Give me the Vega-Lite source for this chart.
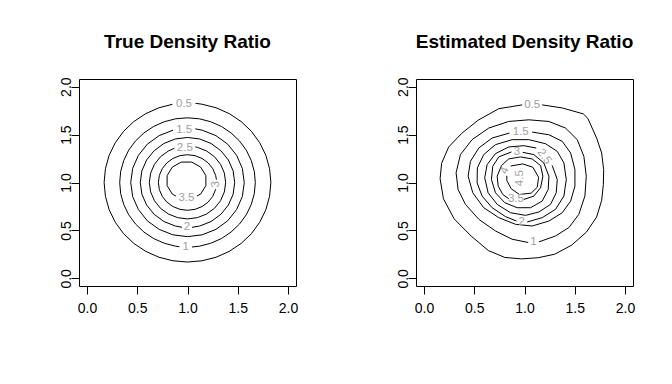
{
 "$schema": "https://vega.github.io/schema/vega-lite/v6.json",
 "padding": {"left": 58, "top": 32, "right": 0, "bottom": 0},
 "autosize": {"type": "pad"},
 "background": "white",
 "spacing": 96,
 "config": {
  "view": {"stroke": "black", "strokeWidth": 1},
  "axis": {"grid": false, "domain": false, "tickColor": "black", "tickSize": 8, "labelFont": "Liberation Sans", "labelFontSize": 14, "labelColor": "black"},
  "axisX": {"labelPadding": 7},
  "axisY": {"labelAngle": -90, "labelAlign": "center", "labelBaseline": "middle", "labelPadding": 5},
  "title": {"font": "Liberation Sans", "fontSize": 19, "fontWeight": "bold", "color": "black", "frame": "group", "anchor": "middle", "offset": 25}
 },
 "datasets": {
  "trueC": [
   {"lvl":"0.5","o":0,"x":1.080,"y":1.826},{"lvl":"0.5","o":1,"x":1.144,"y":1.817},{"lvl":"0.5","o":2,"x":1.284,"y":1.780},{"lvl":"0.5","o":3,"x":1.415,"y":1.719},{"lvl":"0.5","o":4,"x":1.534,"y":1.636},{"lvl":"0.5","o":5,"x":1.636,"y":1.534},{"lvl":"0.5","o":6,"x":1.719,"y":1.415},{"lvl":"0.5","o":7,"x":1.780,"y":1.284},{"lvl":"0.5","o":8,"x":1.817,"y":1.144},{"lvl":"0.5","o":9,"x":1.830,"y":1.000},{"lvl":"0.5","o":10,"x":1.817,"y":0.856},{"lvl":"0.5","o":11,"x":1.780,"y":0.716},{"lvl":"0.5","o":12,"x":1.719,"y":0.585},{"lvl":"0.5","o":13,"x":1.636,"y":0.466},{"lvl":"0.5","o":14,"x":1.534,"y":0.364},{"lvl":"0.5","o":15,"x":1.415,"y":0.281},{"lvl":"0.5","o":16,"x":1.284,"y":0.220},{"lvl":"0.5","o":17,"x":1.144,"y":0.183},{"lvl":"0.5","o":18,"x":1.000,"y":0.170},{"lvl":"0.5","o":19,"x":0.856,"y":0.183},{"lvl":"0.5","o":20,"x":0.716,"y":0.220},{"lvl":"0.5","o":21,"x":0.585,"y":0.281},{"lvl":"0.5","o":22,"x":0.466,"y":0.364},{"lvl":"0.5","o":23,"x":0.364,"y":0.466},{"lvl":"0.5","o":24,"x":0.281,"y":0.585},{"lvl":"0.5","o":25,"x":0.220,"y":0.716},{"lvl":"0.5","o":26,"x":0.183,"y":0.856},{"lvl":"0.5","o":27,"x":0.170,"y":1.000},{"lvl":"0.5","o":28,"x":0.183,"y":1.144},{"lvl":"0.5","o":29,"x":0.220,"y":1.284},{"lvl":"0.5","o":30,"x":0.281,"y":1.415},{"lvl":"0.5","o":31,"x":0.364,"y":1.534},{"lvl":"0.5","o":32,"x":0.466,"y":1.636},{"lvl":"0.5","o":33,"x":0.585,"y":1.719},{"lvl":"0.5","o":34,"x":0.716,"y":1.780},{"lvl":"0.5","o":35,"x":0.850,"y":1.816},
   {"lvl":"1","o":0,"x":1.045,"y":0.327},{"lvl":"1","o":1,"x":1.117,"y":0.335},{"lvl":"1","o":2,"x":1.231,"y":0.366},{"lvl":"1","o":3,"x":1.338,"y":0.415},{"lvl":"1","o":4,"x":1.434,"y":0.483},{"lvl":"1","o":5,"x":1.517,"y":0.566},{"lvl":"1","o":6,"x":1.585,"y":0.663},{"lvl":"1","o":7,"x":1.634,"y":0.769},{"lvl":"1","o":8,"x":1.665,"y":0.883},{"lvl":"1","o":9,"x":1.675,"y":1.000},{"lvl":"1","o":10,"x":1.665,"y":1.117},{"lvl":"1","o":11,"x":1.634,"y":1.231},{"lvl":"1","o":12,"x":1.585,"y":1.338},{"lvl":"1","o":13,"x":1.517,"y":1.434},{"lvl":"1","o":14,"x":1.434,"y":1.517},{"lvl":"1","o":15,"x":1.338,"y":1.585},{"lvl":"1","o":16,"x":1.231,"y":1.634},{"lvl":"1","o":17,"x":1.117,"y":1.665},{"lvl":"1","o":18,"x":1.000,"y":1.675},{"lvl":"1","o":19,"x":0.883,"y":1.665},{"lvl":"1","o":20,"x":0.769,"y":1.634},{"lvl":"1","o":21,"x":0.663,"y":1.585},{"lvl":"1","o":22,"x":0.566,"y":1.517},{"lvl":"1","o":23,"x":0.483,"y":1.434},{"lvl":"1","o":24,"x":0.415,"y":1.338},{"lvl":"1","o":25,"x":0.366,"y":1.231},{"lvl":"1","o":26,"x":0.335,"y":1.117},{"lvl":"1","o":27,"x":0.325,"y":1.000},{"lvl":"1","o":28,"x":0.335,"y":0.883},{"lvl":"1","o":29,"x":0.366,"y":0.769},{"lvl":"1","o":30,"x":0.415,"y":0.663},{"lvl":"1","o":31,"x":0.483,"y":0.566},{"lvl":"1","o":32,"x":0.566,"y":0.483},{"lvl":"1","o":33,"x":0.663,"y":0.415},{"lvl":"1","o":34,"x":0.769,"y":0.366},{"lvl":"1","o":35,"x":0.883,"y":0.335},{"lvl":"1","o":36,"x":0.920,"y":0.330},
   {"lvl":"1.5","o":0,"x":1.078,"y":1.560},{"lvl":"1.5","o":1,"x":1.146,"y":1.546},{"lvl":"1.5","o":2,"x":1.283,"y":1.489},{"lvl":"1.5","o":3,"x":1.400,"y":1.400},{"lvl":"1.5","o":4,"x":1.489,"y":1.283},{"lvl":"1.5","o":5,"x":1.546,"y":1.146},{"lvl":"1.5","o":6,"x":1.565,"y":1.000},{"lvl":"1.5","o":7,"x":1.546,"y":0.854},{"lvl":"1.5","o":8,"x":1.489,"y":0.718},{"lvl":"1.5","o":9,"x":1.400,"y":0.600},{"lvl":"1.5","o":10,"x":1.283,"y":0.511},{"lvl":"1.5","o":11,"x":1.146,"y":0.454},{"lvl":"1.5","o":12,"x":1.000,"y":0.435},{"lvl":"1.5","o":13,"x":0.854,"y":0.454},{"lvl":"1.5","o":14,"x":0.718,"y":0.511},{"lvl":"1.5","o":15,"x":0.600,"y":0.600},{"lvl":"1.5","o":16,"x":0.511,"y":0.718},{"lvl":"1.5","o":17,"x":0.454,"y":0.854},{"lvl":"1.5","o":18,"x":0.435,"y":1.000},{"lvl":"1.5","o":19,"x":0.454,"y":1.146},{"lvl":"1.5","o":20,"x":0.511,"y":1.283},{"lvl":"1.5","o":21,"x":0.600,"y":1.400},{"lvl":"1.5","o":22,"x":0.718,"y":1.489},{"lvl":"1.5","o":23,"x":0.856,"y":1.546},
   {"lvl":"2","o":0,"x":1.045,"y":0.532},{"lvl":"2","o":1,"x":1.122,"y":0.546},{"lvl":"2","o":2,"x":1.235,"y":0.593},{"lvl":"2","o":3,"x":1.332,"y":0.668},{"lvl":"2","o":4,"x":1.407,"y":0.765},{"lvl":"2","o":5,"x":1.454,"y":0.878},{"lvl":"2","o":6,"x":1.470,"y":1.000},{"lvl":"2","o":7,"x":1.454,"y":1.122},{"lvl":"2","o":8,"x":1.407,"y":1.235},{"lvl":"2","o":9,"x":1.332,"y":1.332},{"lvl":"2","o":10,"x":1.235,"y":1.407},{"lvl":"2","o":11,"x":1.122,"y":1.454},{"lvl":"2","o":12,"x":1.000,"y":1.470},{"lvl":"2","o":13,"x":0.878,"y":1.454},{"lvl":"2","o":14,"x":0.765,"y":1.407},{"lvl":"2","o":15,"x":0.668,"y":1.332},{"lvl":"2","o":16,"x":0.593,"y":1.235},{"lvl":"2","o":17,"x":0.546,"y":1.122},{"lvl":"2","o":18,"x":0.530,"y":1.000},{"lvl":"2","o":19,"x":0.546,"y":0.878},{"lvl":"2","o":20,"x":0.593,"y":0.765},{"lvl":"2","o":21,"x":0.668,"y":0.668},{"lvl":"2","o":22,"x":0.765,"y":0.593},{"lvl":"2","o":23,"x":0.878,"y":0.546},{"lvl":"2","o":24,"x":0.945,"y":0.533},
   {"lvl":"2.5","o":0,"x":1.078,"y":1.372},{"lvl":"2.5","o":1,"x":1.098,"y":1.367},{"lvl":"2.5","o":2,"x":1.190,"y":1.329},{"lvl":"2.5","o":3,"x":1.269,"y":1.269},{"lvl":"2.5","o":4,"x":1.329,"y":1.190},{"lvl":"2.5","o":5,"x":1.367,"y":1.098},{"lvl":"2.5","o":6,"x":1.380,"y":1.000},{"lvl":"2.5","o":7,"x":1.367,"y":0.902},{"lvl":"2.5","o":8,"x":1.329,"y":0.810},{"lvl":"2.5","o":9,"x":1.269,"y":0.731},{"lvl":"2.5","o":10,"x":1.190,"y":0.671},{"lvl":"2.5","o":11,"x":1.098,"y":0.633},{"lvl":"2.5","o":12,"x":1.000,"y":0.620},{"lvl":"2.5","o":13,"x":0.902,"y":0.633},{"lvl":"2.5","o":14,"x":0.810,"y":0.671},{"lvl":"2.5","o":15,"x":0.731,"y":0.731},{"lvl":"2.5","o":16,"x":0.671,"y":0.810},{"lvl":"2.5","o":17,"x":0.633,"y":0.902},{"lvl":"2.5","o":18,"x":0.620,"y":1.000},{"lvl":"2.5","o":19,"x":0.633,"y":1.098},{"lvl":"2.5","o":20,"x":0.671,"y":1.190},{"lvl":"2.5","o":21,"x":0.731,"y":1.269},{"lvl":"2.5","o":22,"x":0.810,"y":1.329},{"lvl":"2.5","o":23,"x":0.869,"y":1.357},
   {"lvl":"3","o":0,"x":1.288,"y":1.030},{"lvl":"3","o":1,"x":1.280,"y":1.075},{"lvl":"3","o":2,"x":1.251,"y":1.145},{"lvl":"3","o":3,"x":1.205,"y":1.205},{"lvl":"3","o":4,"x":1.145,"y":1.251},{"lvl":"3","o":5,"x":1.075,"y":1.280},{"lvl":"3","o":6,"x":1.000,"y":1.290},{"lvl":"3","o":7,"x":0.925,"y":1.280},{"lvl":"3","o":8,"x":0.855,"y":1.251},{"lvl":"3","o":9,"x":0.795,"y":1.205},{"lvl":"3","o":10,"x":0.749,"y":1.145},{"lvl":"3","o":11,"x":0.720,"y":1.075},{"lvl":"3","o":12,"x":0.710,"y":1.000},{"lvl":"3","o":13,"x":0.720,"y":0.925},{"lvl":"3","o":14,"x":0.749,"y":0.855},{"lvl":"3","o":15,"x":0.795,"y":0.795},{"lvl":"3","o":16,"x":0.855,"y":0.749},{"lvl":"3","o":17,"x":0.925,"y":0.720},{"lvl":"3","o":18,"x":1.000,"y":0.710},{"lvl":"3","o":19,"x":1.075,"y":0.720},{"lvl":"3","o":20,"x":1.145,"y":0.749},{"lvl":"3","o":21,"x":1.205,"y":0.795},{"lvl":"3","o":22,"x":1.251,"y":0.855},{"lvl":"3","o":23,"x":1.281,"y":0.930},
   {"lvl":"3.5","o":0,"x":1.095,"y":0.860},{"lvl":"3.5","o":1,"x":1.131,"y":0.879},{"lvl":"3.5","o":2,"x":1.183,"y":0.968},{"lvl":"3.5","o":3,"x":1.183,"y":1.072},{"lvl":"3.5","o":4,"x":1.131,"y":1.161},{"lvl":"3.5","o":5,"x":1.042,"y":1.213},{"lvl":"3.5","o":6,"x":0.938,"y":1.213},{"lvl":"3.5","o":7,"x":0.849,"y":1.161},{"lvl":"3.5","o":8,"x":0.797,"y":1.072},{"lvl":"3.5","o":9,"x":0.797,"y":0.968},{"lvl":"3.5","o":10,"x":0.849,"y":0.879},{"lvl":"3.5","o":11,"x":0.885,"y":0.858}
  ],
  "trueL": [
   {"label":"0.5","x":0.965,"y":1.823,"a":0},{"label":"1","x":0.982,"y":0.328,"a":0},{"label":"1.5","x":0.967,"y":1.553,"a":0},{"label":"2","x":0.995,"y":0.532,"a":0},{"label":"2.5","x":0.973,"y":1.365,"a":0},{"label":"3","x":1.287,"y":0.980,"a":-90},{"label":"3.5","x":0.990,"y":0.835,"a":0}
  ],
  "estC": [
   {"lvl":"0.5","o":0,"x":1.176,"y":1.810},{"lvl":"0.5","o":1,"x":1.376,"y":1.778},{"lvl":"0.5","o":2,"x":1.585,"y":1.716},{"lvl":"0.5","o":3,"x":1.630,"y":1.670},{"lvl":"0.5","o":4,"x":1.718,"y":1.464},{"lvl":"0.5","o":5,"x":1.768,"y":1.308},{"lvl":"0.5","o":6,"x":1.788,"y":1.135},{"lvl":"0.5","o":7,"x":1.785,"y":0.979},{"lvl":"0.5","o":8,"x":1.768,"y":0.813},{"lvl":"0.5","o":9,"x":1.718,"y":0.640},{"lvl":"0.5","o":10,"x":1.618,"y":0.484},{"lvl":"0.5","o":11,"x":1.469,"y":0.346},{"lvl":"0.5","o":12,"x":1.302,"y":0.252},{"lvl":"0.5","o":13,"x":1.137,"y":0.215},{"lvl":"0.5","o":14,"x":0.970,"y":0.203},{"lvl":"0.5","o":15,"x":0.804,"y":0.218},{"lvl":"0.5","o":16,"x":0.640,"y":0.290},{"lvl":"0.5","o":17,"x":0.470,"y":0.440},{"lvl":"0.5","o":18,"x":0.300,"y":0.620},{"lvl":"0.5","o":19,"x":0.193,"y":0.830},{"lvl":"0.5","o":20,"x":0.160,"y":1.040},{"lvl":"0.5","o":21,"x":0.175,"y":1.200},{"lvl":"0.5","o":22,"x":0.245,"y":1.370},{"lvl":"0.5","o":23,"x":0.372,"y":1.510},{"lvl":"0.5","o":24,"x":0.538,"y":1.650},{"lvl":"0.5","o":25,"x":0.744,"y":1.770},{"lvl":"0.5","o":26,"x":0.977,"y":1.810},
   {"lvl":"1","o":0,"x":1.143,"y":0.380},{"lvl":"1","o":1,"x":1.309,"y":0.442},{"lvl":"1","o":2,"x":1.442,"y":0.530},{"lvl":"1","o":3,"x":1.541,"y":0.668},{"lvl":"1","o":4,"x":1.601,"y":0.858},{"lvl":"1","o":5,"x":1.615,"y":1.066},{"lvl":"1","o":6,"x":1.591,"y":1.273},{"lvl":"1","o":7,"x":1.525,"y":1.447},{"lvl":"1","o":8,"x":1.409,"y":1.568},{"lvl":"1","o":9,"x":1.243,"y":1.637},{"lvl":"1","o":10,"x":1.043,"y":1.654},{"lvl":"1","o":11,"x":0.843,"y":1.637},{"lvl":"1","o":12,"x":0.644,"y":1.568},{"lvl":"1","o":13,"x":0.478,"y":1.447},{"lvl":"1","o":14,"x":0.362,"y":1.291},{"lvl":"1","o":15,"x":0.319,"y":1.101},{"lvl":"1","o":16,"x":0.339,"y":0.927},{"lvl":"1","o":17,"x":0.412,"y":0.772},{"lvl":"1","o":18,"x":0.545,"y":0.616},{"lvl":"1","o":19,"x":0.711,"y":0.494},{"lvl":"1","o":20,"x":0.877,"y":0.408},{"lvl":"1","o":21,"x":1.037,"y":0.374},
   {"lvl":"1.5","o":0,"x":1.076,"y":1.526},{"lvl":"1.5","o":1,"x":1.243,"y":1.498},{"lvl":"1.5","o":2,"x":1.376,"y":1.429},{"lvl":"1.5","o":3,"x":1.459,"y":1.308},{"lvl":"1.5","o":4,"x":1.502,"y":1.135},{"lvl":"1.5","o":5,"x":1.502,"y":0.962},{"lvl":"1.5","o":6,"x":1.459,"y":0.806},{"lvl":"1.5","o":7,"x":1.376,"y":0.685},{"lvl":"1.5","o":8,"x":1.243,"y":0.598},{"lvl":"1.5","o":9,"x":1.076,"y":0.546},{"lvl":"1.5","o":10,"x":0.910,"y":0.564},{"lvl":"1.5","o":11,"x":0.744,"y":0.633},{"lvl":"1.5","o":12,"x":0.594,"y":0.737},{"lvl":"1.5","o":13,"x":0.485,"y":0.893},{"lvl":"1.5","o":14,"x":0.439,"y":1.066},{"lvl":"1.5","o":15,"x":0.462,"y":1.221},{"lvl":"1.5","o":16,"x":0.545,"y":1.360},{"lvl":"1.5","o":17,"x":0.678,"y":1.464},{"lvl":"1.5","o":18,"x":0.850,"y":1.516},
   {"lvl":"2","o":0,"x":1.027,"y":0.588},{"lvl":"2","o":1,"x":1.176,"y":0.633},{"lvl":"2","o":2,"x":1.309,"y":0.720},{"lvl":"2","o":3,"x":1.392,"y":0.858},{"lvl":"2","o":4,"x":1.416,"y":1.031},{"lvl":"2","o":5,"x":1.392,"y":1.204},{"lvl":"2","o":6,"x":1.326,"y":1.325},{"lvl":"2","o":7,"x":1.209,"y":1.405},{"lvl":"2","o":8,"x":1.043,"y":1.447},{"lvl":"2","o":9,"x":0.877,"y":1.447},{"lvl":"2","o":10,"x":0.711,"y":1.395},{"lvl":"2","o":11,"x":0.594,"y":1.291},{"lvl":"2","o":12,"x":0.531,"y":1.153},{"lvl":"2","o":13,"x":0.528,"y":0.997},{"lvl":"2","o":14,"x":0.578,"y":0.858},{"lvl":"2","o":15,"x":0.678,"y":0.737},{"lvl":"2","o":16,"x":0.811,"y":0.644},{"lvl":"2","o":17,"x":0.920,"y":0.598},
   {"lvl":"2.5","o":0,"x":1.276,"y":1.177},{"lvl":"2.5","o":1,"x":1.326,"y":1.031},{"lvl":"2.5","o":2,"x":1.316,"y":0.893},{"lvl":"2.5","o":3,"x":1.259,"y":0.772},{"lvl":"2.5","o":4,"x":1.143,"y":0.692},{"lvl":"2.5","o":5,"x":1.010,"y":0.657},{"lvl":"2.5","o":6,"x":0.860,"y":0.685},{"lvl":"2.5","o":7,"x":0.728,"y":0.772},{"lvl":"2.5","o":8,"x":0.638,"y":0.893},{"lvl":"2.5","o":9,"x":0.604,"y":1.049},{"lvl":"2.5","o":10,"x":0.628,"y":1.187},{"lvl":"2.5","o":11,"x":0.711,"y":1.301},{"lvl":"2.5","o":12,"x":0.843,"y":1.371},{"lvl":"2.5","o":13,"x":0.993,"y":1.384},{"lvl":"2.5","o":14,"x":1.117,"y":1.360},
   {"lvl":"3","o":0,"x":0.983,"y":1.315},{"lvl":"3","o":1,"x":1.093,"y":1.291},{"lvl":"3","o":2,"x":1.192,"y":1.204},{"lvl":"3","o":3,"x":1.243,"y":1.066},{"lvl":"3","o":4,"x":1.236,"y":0.927},{"lvl":"3","o":5,"x":1.176,"y":0.806},{"lvl":"3","o":6,"x":1.060,"y":0.737},{"lvl":"3","o":7,"x":0.927,"y":0.737},{"lvl":"3","o":8,"x":0.804,"y":0.789},{"lvl":"3","o":9,"x":0.711,"y":0.893},{"lvl":"3","o":10,"x":0.671,"y":1.031},{"lvl":"3","o":11,"x":0.684,"y":1.169},{"lvl":"3","o":12,"x":0.744,"y":1.267},{"lvl":"3","o":13,"x":0.870,"y":1.319},
   {"lvl":"3.5","o":0,"x":0.993,"y":0.823},{"lvl":"3.5","o":1,"x":1.093,"y":0.858},{"lvl":"3.5","o":2,"x":1.160,"y":0.945},{"lvl":"3.5","o":3,"x":1.183,"y":1.066},{"lvl":"3.5","o":4,"x":1.160,"y":1.177},{"lvl":"3.5","o":5,"x":1.076,"y":1.246},{"lvl":"3.5","o":6,"x":0.960,"y":1.267},{"lvl":"3.5","o":7,"x":0.843,"y":1.246},{"lvl":"3.5","o":8,"x":0.771,"y":1.177},{"lvl":"3.5","o":9,"x":0.728,"y":1.066},{"lvl":"3.5","o":10,"x":0.738,"y":0.962},{"lvl":"3.5","o":11,"x":0.784,"y":0.875},{"lvl":"3.5","o":12,"x":0.843,"y":0.831},
   {"lvl":"4","o":0,"x":0.862,"y":1.172},{"lvl":"4","o":1,"x":0.983,"y":1.194},{"lvl":"4","o":2,"x":1.083,"y":1.159},{"lvl":"4","o":3,"x":1.140,"y":1.055},{"lvl":"4","o":4,"x":1.127,"y":0.951},{"lvl":"4","o":5,"x":1.067,"y":0.889},{"lvl":"4","o":6,"x":0.950,"y":0.875},{"lvl":"4","o":7,"x":0.867,"y":0.935},{"lvl":"4","o":8,"x":0.824,"y":1.021},{"lvl":"4","o":9,"x":0.824,"y":1.070}
  ],
  "estL": [
   {"label":"0.5","x":1.077,"y":1.810,"a":0},{"label":"1","x":1.088,"y":0.376,"a":0},{"label":"1.5","x":0.963,"y":1.525,"a":0},{"label":"2","x":0.973,"y":0.590,"a":0},{"label":"2.5","x":1.195,"y":1.268,"a":55},{"label":"3","x":0.925,"y":1.318,"a":0},{"label":"3.5","x":0.915,"y":0.824,"a":0},{"label":"4","x":0.805,"y":1.125,"a":-65},{"label":"4.5","x":0.957,"y":1.045,"a":-90}
  ]
 },
 "hconcat": [
  {
   "width": 217, "height": 207,
   "title": "True Density Ratio",
   "layer": [
    {"data": {"name": "trueC"}, "mark": {"type": "line", "color": "black", "strokeWidth": 1},
     "encoding": {
      "x": {"field": "x", "type": "quantitative", "scale": {"domain": [-0.08, 2.08], "nice": false, "zero": false}, "axis": {"values": [0, 0.5, 1, 1.5, 2], "format": ".1f", "title": null}},
      "y": {"field": "y", "type": "quantitative", "scale": {"domain": [-0.08, 2.08], "nice": false, "zero": false}, "axis": {"values": [0, 0.5, 1, 1.5, 2], "format": ".1f", "title": null}},
      "detail": {"field": "lvl"}, "order": {"field": "o", "type": "quantitative"}}},
    {"data": {"name": "trueL"}, "mark": {"type": "text", "color": "#a0a0a0", "font": "Liberation Sans", "fontSize": 11.5, "align": "center", "baseline": "middle"},
     "encoding": {
      "x": {"field": "x", "type": "quantitative"},
      "y": {"field": "y", "type": "quantitative"},
      "text": {"field": "label"},
      "angle": {"field": "a", "type": "quantitative", "scale": null}}}
   ]
  },
  {
   "width": 217, "height": 207,
   "title": "Estimated Density Ratio",
   "layer": [
    {"data": {"name": "estC"}, "mark": {"type": "line", "color": "black", "strokeWidth": 1},
     "encoding": {
      "x": {"field": "x", "type": "quantitative", "scale": {"domain": [-0.08, 2.08], "nice": false, "zero": false}, "axis": {"values": [0, 0.5, 1, 1.5, 2], "format": ".1f", "title": null}},
      "y": {"field": "y", "type": "quantitative", "scale": {"domain": [-0.08, 2.08], "nice": false, "zero": false}, "axis": {"values": [0, 0.5, 1, 1.5, 2], "format": ".1f", "title": null}},
      "detail": {"field": "lvl"}, "order": {"field": "o", "type": "quantitative"}}},
    {"data": {"name": "estL"}, "mark": {"type": "text", "color": "#a0a0a0", "font": "Liberation Sans", "fontSize": 11.5, "align": "center", "baseline": "middle"},
     "encoding": {
      "x": {"field": "x", "type": "quantitative"},
      "y": {"field": "y", "type": "quantitative"},
      "text": {"field": "label"},
      "angle": {"field": "a", "type": "quantitative", "scale": null}}}
   ]
  }
 ]
}
